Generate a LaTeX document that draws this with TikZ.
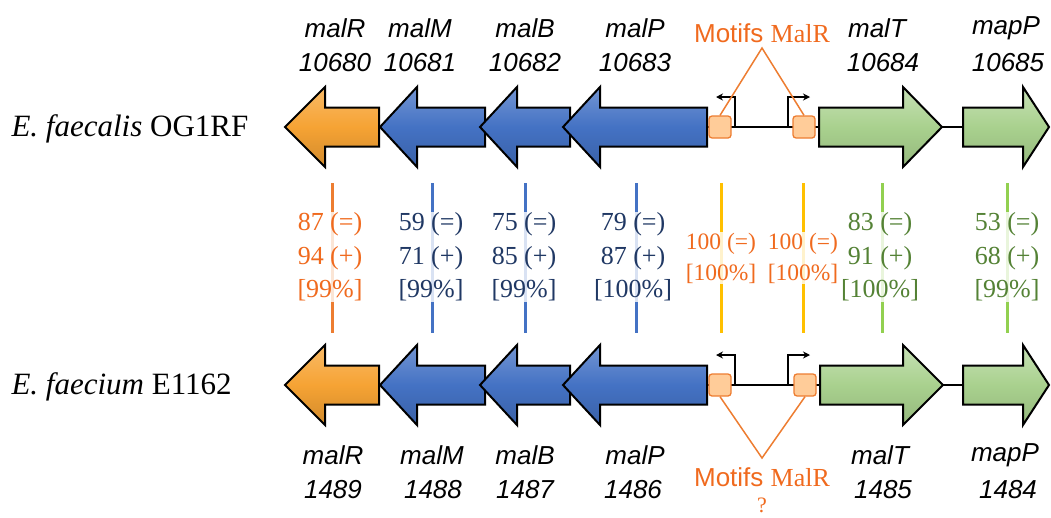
\documentclass[tikz,border=0pt]{standalone}
\usepackage{fontspec}
\setmainfont{Liberation Serif}
\setsansfont{Liberation Sans}
\usetikzlibrary{arrows.meta}
\definecolor{orT}{HTML}{F06A1E}
\definecolor{bluT}{HTML}{203864}
\definecolor{grnT}{HTML}{548235}
\definecolor{orL}{HTML}{ED7D31}
\definecolor{bluL}{HTML}{4472C4}
\definecolor{yelL}{HTML}{FFC000}
\definecolor{grnL}{HTML}{92D050}
\definecolor{orF}{HTML}{F6A334}
\definecolor{grnF}{HTML}{A9D18E}
\tikzset{
 geneor/.style={draw=black,line width=2pt,line join=miter,top color=orF!75!white,bottom color=orF!85!black,middle color=orF},
 geneblu/.style={draw=black,line width=2pt,line join=miter,top color=bluL!75!white,bottom color=bluL!85!black,middle color=bluL},
 genegrn/.style={draw=black,line width=2pt,line join=miter,top color=grnF!65!white,bottom color=grnF!88!black,middle color=grnF},
 genelab/.style={font=\sffamily\itshape\fontsize{26}{30}\selectfont,anchor=center},
 species/.style={font=\fontsize{31}{36}\selectfont,anchor=west},
 numtxt/.style={font=\fontsize{26}{33.5}\selectfont,align=center,fill=white,fill opacity=0.8,text opacity=1,inner sep=1pt},
 vline/.style={line width=3pt},
 motif/.style={draw=orL,fill=orange!40!white,line width=1.3pt,rounded corners=3pt,minimum width=22pt,minimum height=22pt,inner sep=0pt},
 prom/.style={draw=black,line width=2pt,-{Stealth[length=7pt,width=7pt]}},
 motifline/.style={draw=orL,line width=1.5pt},
 motiftxt/.style={text=orT,font=\fontsize{26}{30}\selectfont},
}
\newcommand{\geneLeft}[5]{% tip x, head back x, right x, y, style
 \draw[#5] (#1,#4) -- (#2,#4-40) -- (#2,#4-19.5) -- (#3,#4-19.5) -- (#3,#4+19.5) -- (#2,#4+19.5) -- (#2,#4+40) -- cycle;}
\newcommand{\geneRight}[5]{% left x, head back x, tip x, y, style
 \draw[#5] (#1,#4-19.5) -- (#2,#4-19.5) -- (#2,#4-40) -- (#3,#4) -- (#2,#4+40) -- (#2,#4+19.5) -- (#1,#4+19.5) -- cycle;}
\begin{document}
\begin{tikzpicture}[x=1pt,y=-1pt]
\useasboundingbox (0,0) rectangle (1051,517);

% ---------- vertical comparison lines ----------
\draw[vline,orL] (332,183) -- (332,333);
\draw[vline,bluL] (432,183) -- (432,333);
\draw[vline,bluL] (525,183) -- (525,333);
\draw[vline,bluL] (636,183) -- (636,333);
\draw[vline,yelL] (721,183) -- (721,333);
\draw[vline,yelL] (803,183) -- (803,333);
\draw[vline,grnL] (882,183) -- (882,333);
\draw[vline,grnL] (1007,183) -- (1007,333);

\node[numtxt,text=orT] (cR) at (330,257) {87 (=)\\94 (+)\\{[}99\%{]}};
\node[numtxt,text=bluT] (cM) at (431,257) {59 (=)\\71 (+)\\{[}99\%{]}};
\node[numtxt,text=bluT] (cB) at (524,257) {75 (=)\\85 (+)\\{[}99\%{]}};
\node[numtxt,text=bluT] (cP) at (633,257) {79 (=)\\87 (+)\\{[}100\%{]}};
\node[numtxt,text=orT,font=\fontsize{23.5}{31}\selectfont] (cm1) at (721,258) {100 (=)\\{[}100\%{]}};
\node[numtxt,text=orT,font=\fontsize{23.5}{31}\selectfont] (cm2) at (803,258) {100 (=)\\{[}100\%{]}};
\node[numtxt,text=grnT] (cT) at (880,257) {83 (=)\\91 (+)\\{[}100\%{]}};
\node[numtxt,text=grnT] (cMP) at (1007,257) {53 (=)\\68 (+)\\{[}99\%{]}};

% ---------- species labels ----------
\node[species] (sp1) at (8,129) {\textit{E. faecalis} OG1RF};
\node[species] (sp2) at (8,387) {\textit{E. faecium} E1162};

% ---------- top row ----------
\coordinate (t1) at (707,127);
\coordinate (t2) at (819,127);
\draw[line width=2pt] (t1) -- (t2);
\coordinate (t3) at (942,127);
\coordinate (t4) at (963,127);
\draw[line width=2pt] (t3) -- (t4);
\geneLeft{285}{325}{379}{127}{geneor}
\geneLeft{380}{417}{485}{127}{geneblu}
\geneLeft{480}{517}{570}{127}{geneblu}
\geneLeft{563}{600}{707}{127}{geneblu}
\geneRight{819}{903}{942}{127}{genegrn}
\geneRight{963}{1023}{1049}{127}{genegrn}
\coordinate (p1b) at (735,127);
\coordinate (p1t) at (735,97);
\coordinate (p1e) at (716,97);
\draw[prom] (p1b) -- (p1t) -- (p1e);
\coordinate (p2b) at (788,127);
\coordinate (p2t) at (788,97);
\coordinate (p2e) at (810,97);
\draw[prom] (p2b) -- (p2t) -- (p2e);
\node[motif] (m1) at (720,127) {};
\node[motif] (m2) at (804,127) {};
\node[motiftxt] (mt1) at (762,33) {\sffamily Motifs \rmfamily MalR};
\coordinate (ap1) at (762,48);
\draw[motifline] (m1.north) -- (ap1) -- (m2.north);

\node[genelab] (gR1) at (335,28) {malR};
\node[genelab] (nR1) at (335,63) {10680};
\node[genelab] (gM1) at (420,28) {malM};
\node[genelab] (nM1) at (420,63) {10681};
\node[genelab] (gB1) at (525,28) {malB};
\node[genelab] (nB1) at (525,63) {10682};
\node[genelab] (gP1) at (635,28) {malP};
\node[genelab] (nP1) at (635,63) {10683};
\node[genelab] (gT1) at (877,28) {malT};
\node[genelab] (nT1) at (883,63) {10684};
\node[genelab] (gMP1) at (1006,28) {mapP};
\node[genelab] (nMP1) at (1008,63) {10685};

% ---------- bottom row ----------
\coordinate (b1) at (707,385);
\coordinate (b2) at (820,385);
\draw[line width=2pt] (b1) -- (b2);
\coordinate (b3) at (943,385);
\coordinate (b4) at (963,385);
\draw[line width=2pt] (b3) -- (b4);
\geneLeft{285}{325}{379}{385}{geneor}
\geneLeft{380}{417}{485}{385}{geneblu}
\geneLeft{480}{517}{570}{385}{geneblu}
\geneLeft{563}{600}{707}{385}{geneblu}
\geneRight{820}{903}{943}{385}{genegrn}
\geneRight{963}{1023}{1049}{385}{genegrn}
\coordinate (q1b) at (735,385);
\coordinate (q1t) at (735,355);
\coordinate (q1e) at (716,355);
\draw[prom] (q1b) -- (q1t) -- (q1e);
\coordinate (q2b) at (788,385);
\coordinate (q2t) at (788,355);
\coordinate (q2e) at (810,355);
\draw[prom] (q2b) -- (q2t) -- (q2e);
\node[motif] (m3) at (720,385) {};
\node[motif] (m4) at (805,385) {};
\coordinate (ap2) at (762,458);
\draw[motifline] (m3.south) -- (ap2) -- (m4.south);
\node[motiftxt] (mt2) at (762,477) {\sffamily Motifs \rmfamily MalR};
\node[motiftxt,font=\fontsize{22}{24}\selectfont] (mq) at (762,505) {?};

\node[genelab] (gR2) at (333,455) {malR};
\node[genelab] (nR2) at (333,490) {1489};
\node[genelab] (gM2) at (432,455) {malM};
\node[genelab] (nM2) at (433,490) {1488};
\node[genelab] (gB2) at (525,455) {malB};
\node[genelab] (nB2) at (525,490) {1487};
\node[genelab] (gP2) at (635,455) {malP};
\node[genelab] (nP2) at (633,490) {1486};
\node[genelab] (gT2) at (880,455) {malT};
\node[genelab] (nT2) at (883,490) {1485};
\node[genelab] (gMP2) at (1005,455) {mapP};
\node[genelab] (nMP2) at (1008,490) {1484};
\end{tikzpicture}
\end{document}
